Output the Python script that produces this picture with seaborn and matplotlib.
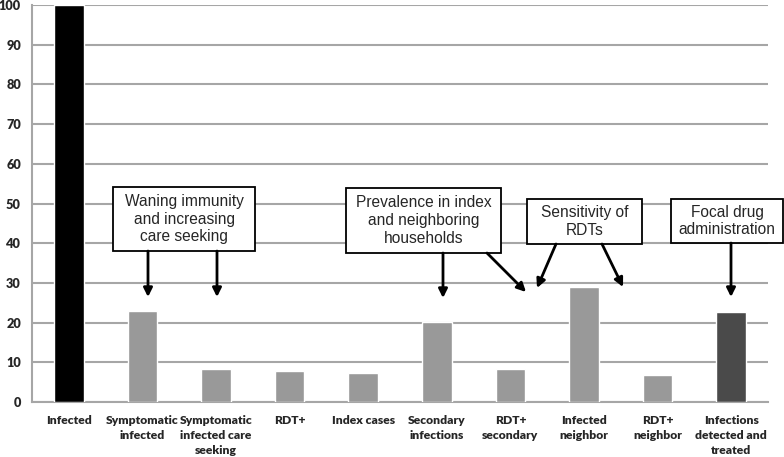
import matplotlib
matplotlib.use("Agg")
import matplotlib.pyplot as plt
from matplotlib.patches import Rectangle
import seaborn as sns
import pandas as pd

categories = ["Infected", "Symptomatic\ninfected", "Symptomatic\ninfected care\nseeking",
              "RDT+", "Index cases", "Secondary\ninfections", "RDT+\nsecondary",
              "Infected\nneighbor", "RDT+\nneighbor", "Infections\ndetected and\ntreated"]
values = [100, 22.9, 8.2, 7.9, 7.4, 20.2, 8.2, 28.9, 6.8, 22.6]
bar_colors = ["#000000", "#999999", "#999999", "#999999", "#999999", "#999999",
              "#999999", "#999999", "#999999", "#4a4a4a"]
y_ticks = [0, 10, 20, 30, 40, 50, 60, 70, 80, 90, 100]

notes = ["Waning immunity\nand increasing\ncare seeking",
         "Prevalence in index\nand neighboring\nhouseholds",
         "Sensitivity of\nRDTs",
         "Focal drug\nadministration"]

sns.set_style("white")
plt.rcParams["font.family"] = ["Liberation Sans", "DejaVu Sans"]

df = pd.DataFrame({"cat": categories, "val": values})

fig = plt.figure(figsize=(7.84, 4.57), dpi=100)
ax = fig.add_axes([32 / 784, 1 - 402 / 457, (768 - 32) / 784, (402 - 5) / 457])

sns.barplot(data=df, x="cat", y="val", hue="cat", palette=bar_colors, legend=False,
            width=0.4, saturation=1, ax=ax, zorder=3)

ax.set_ylim(0, 100)
ax.set_xlim(-0.5, len(categories) - 0.5)
ax.set_yticks(y_ticks)
ax.set_yticklabels([str(t) for t in y_ticks])
ax.set_xlabel("")
ax.set_ylabel("")
ax.yaxis.grid(True, color="#a6a6a6", linewidth=1.5, zorder=0)
ax.set_axisbelow(True)
for s in ["top", "right"]:
    ax.spines[s].set_visible(False)
for s in ["left", "bottom"]:
    ax.spines[s].set_color("#a6a6a6")
    ax.spines[s].set_linewidth(1.5)

ax.set_xticks([i + 0.5 for i in range(-1, len(categories))], minor=True)
ax.tick_params(axis="x", which="major", length=0, pad=9)
ax.tick_params(axis="x", which="minor", length=4, color="#a6a6a6", width=1.2, direction="out")
ax.tick_params(axis="y", length=4, color="#a6a6a6", width=1.2, direction="out", pad=4)
for lab in ax.get_xticklabels():
    lab.set_fontfamily(["Lato", "DejaVu Sans"])
    lab.set_fontweight("heavy")
    lab.set_fontsize(8.7)
    lab.set_linespacing(1.45)
for lab in ax.get_yticklabels():
    lab.set_fontfamily(["Lato", "DejaVu Sans"])
    lab.set_fontweight("heavy")
    lab.set_fontsize(9.2)


def px2x(px):
    return (px - 68.8) / 73.6


def px2y(py):
    return (402 - py) / 3.97


# boxes: (left, top, right, bottom) in pixels converted to data
boxes = [(113, 187, 255, 251), (346, 188, 501, 253), (527, 199, 642, 244), (671, 199, 783, 243)]
for (l, t, r, b), txt in zip(boxes, notes):
    x0, x1 = px2x(l), px2x(r)
    y0, y1 = px2y(b), px2y(t)
    ax.add_patch(Rectangle((x0, y0), x1 - x0, y1 - y0, facecolor="white",
                           edgecolor="black", linewidth=1.3, zorder=5, clip_on=False))
    ax.text((x0 + x1) / 2, (y0 + y1) / 2, txt, ha="center", va="center",
            fontsize=11.2, linespacing=1.22, zorder=6, clip_on=False)

arrows = [((148, 251), (148, 297)), ((217, 251), (217, 297)),
          ((443, 253), (443, 298)), ((487, 253), (526, 292)),
          ((556, 244), (537, 288)), ((602, 244), (623, 287)),
          ((731, 243), (731, 297))]
for (sx, sy), (ex, ey) in arrows:
    ax.annotate("", xy=(px2x(ex), px2y(ey)), xytext=(px2x(sx), px2y(sy)),
                arrowprops=dict(arrowstyle="-|>", color="black", lw=2.0,
                                mutation_scale=13, shrinkA=0, shrinkB=0),
                zorder=6, annotation_clip=False)

fig.savefig("out.png", dpi=100)
